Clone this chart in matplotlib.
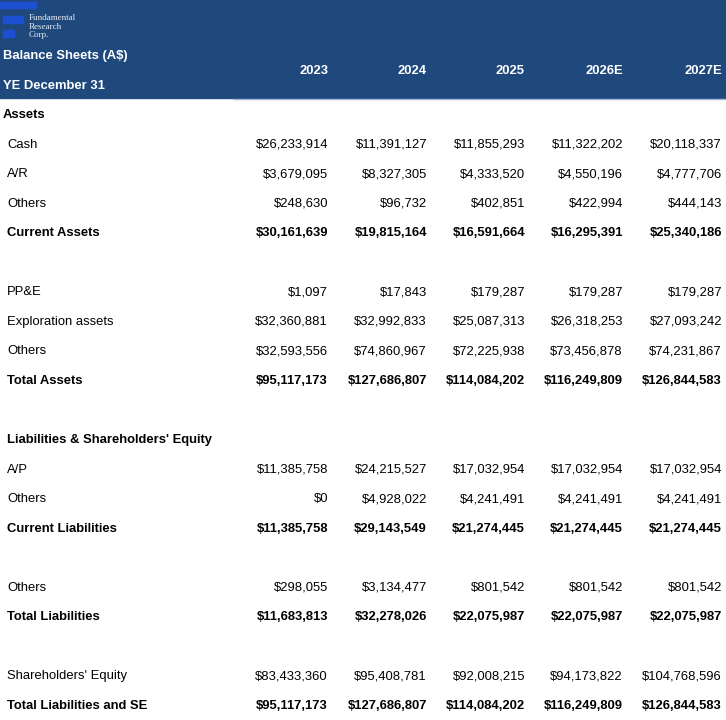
import matplotlib
matplotlib.use("Agg")
import matplotlib.pyplot as plt
from matplotlib.patches import Rectangle

plt.rcParams["font.family"] = ["Liberation Sans", "DejaVu Sans"]

# column headers
years = ["2023", "2024", "2025", "2026E", "2027E"]

# assets (A$)
cash = [26233914, 11391127, 11855293, 11322202, 20118337]
ar = [3679095, 8327305, 4333520, 4550196, 4777706]
other_current_assets = [248630, 96732, 402851, 422994, 444143]
current_assets = [30161639, 19815164, 16591664, 16295391, 25340186]
ppe = [1097, 17843, 179287, 179287, 179287]
exploration_assets = [32360881, 32992833, 25087313, 26318253, 27093242]
other_assets = [32593556, 74860967, 72225938, 73456878, 74231867]
total_assets = [95117173, 127686807, 114084202, 116249809, 126844583]

# liabilities & equity (A$)
ap = [11385758, 24215527, 17032954, 17032954, 17032954]
other_current_liab = [0, 4928022, 4241491, 4241491, 4241491]
current_liab = [11385758, 29143549, 21274445, 21274445, 21274445]
other_liab = [298055, 3134477, 801542, 801542, 801542]
total_liab = [11683813, 32278026, 22075987, 22075987, 22075987]
equity = [83433360, 95408781, 92008215, 94173822, 104768596]
total_liab_se = [95117173, 127686807, 114084202, 116249809, 126844583]

# (label, values, bold) -- None is an empty spacer row
rows = [
    ("Assets", None, True),
    ("Cash", cash, False),
    ("A/R", ar, False),
    ("Others", other_current_assets, False),
    ("Current Assets", current_assets, True),
    None,
    ("PP&E", ppe, False),
    ("Exploration assets", exploration_assets, False),
    ("Others", other_assets, False),
    ("Total Assets", total_assets, True),
    None,
    ("Liabilities & Shareholders' Equity", None, True),
    ("A/P", ap, False),
    ("Others", other_current_liab, False),
    ("Current Liabilities", current_liab, True),
    None,
    ("Others", other_liab, False),
    ("Total Liabilities", total_liab, True),
    None,
    ("Shareholders' Equity", equity, False),
    ("Total Liabilities and SE", total_liab_se, True),
]

W, H = 726, 720
fig = plt.figure(figsize=(W / 100, H / 100), dpi=100)
ax = fig.add_axes([0, 0, 1, 1])
ax.set_xlim(0, W)
ax.set_ylim(H, 0)
ax.axis("off")

navy = "#1f497d"
fs = 9.4
col_right = [328, 427, 525, 623, 722]

# header band
ax.add_patch(Rectangle((0, 0), W, 98, color=navy, zorder=0))
ax.plot([233, W], [98.5, 98.5], color="#9fb7d6", lw=1)

# logo
logo_blue = "#1d4fd1"
ax.add_patch(Rectangle((0, 2), 36, 6, color=logo_blue))
ax.add_patch(Rectangle((3, 16), 20, 7, color=logo_blue))
ax.add_patch(Rectangle((3, 30), 11, 7, color=logo_blue))
for i, word in enumerate(["Fundamental", "Research", "Corp."]):
    ax.text(29, 18 + i * 8.7, word, fontsize=6.5, color="#e8ecf4",
            family=["Liberation Serif", "DejaVu Serif"], va="center", ha="left")

ax.text(3, 56, "Balance Sheets (A$)", fontsize=fs, color="white",
        fontweight="bold", va="center", ha="left")
ax.text(3, 86, "YE December 31", fontsize=fs, color="white",
        fontweight="bold", va="center", ha="left")
for x, yr in zip(col_right, years):
    ax.text(x, 71, yr, fontsize=fs, color="white", fontweight="bold",
            va="center", ha="right")

# body
y0, pitch = 115, 29.55
for i, row in enumerate(rows):
    if row is None:
        continue
    label, vals, bold = row
    y = y0 + i * pitch
    weight = "bold" if bold else "normal"
    lx = 3 if label == "Assets" else 7
    ax.text(lx, y, label, fontsize=fs, fontweight=weight, color="black",
            va="center", ha="left")
    if vals is None:
        continue
    for x, v in zip(col_right, vals):
        ax.text(x, y, f"${v:,.0f}", fontsize=fs, fontweight=weight,
                color="black", va="center", ha="right")

fig.savefig("out.png", dpi=100)
